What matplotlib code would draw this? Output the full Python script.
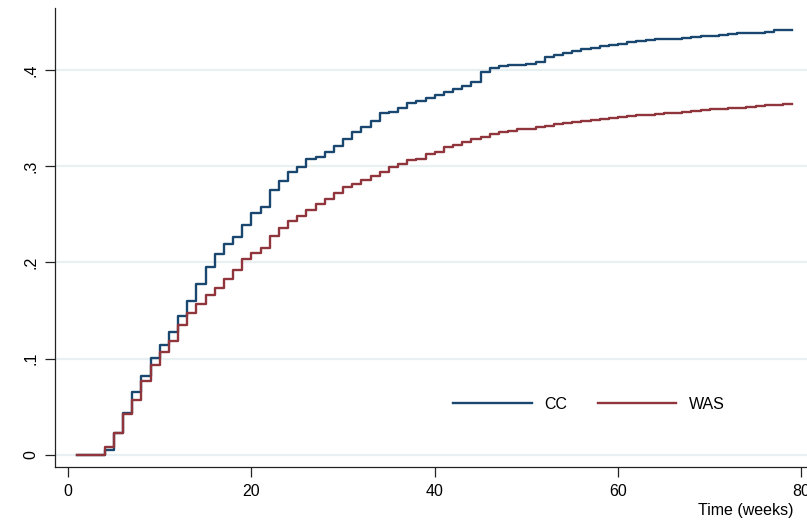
import matplotlib
matplotlib.use("Agg")
import matplotlib.pyplot as plt

# cumulative incidence, weekly steps (week 1..79)
weeks = list(range(1, 80))

cc = [0, 0, 0, 0.0055, 0.023, 0.0436, 0.0658, 0.082, 0.1004, 0.114,
      0.128, 0.1447, 0.160, 0.178, 0.1957, 0.2088, 0.219, 0.2268, 0.239, 0.251,
      0.258, 0.2753, 0.285, 0.294, 0.2996, 0.307, 0.310, 0.3152, 0.321, 0.3283,
      0.336, 0.341, 0.347, 0.355, 0.3567, 0.361, 0.3653, 0.3678, 0.3706, 0.374,
      0.3775, 0.380, 0.3835, 0.387, 0.3976, 0.4024, 0.4045, 0.4048, 0.4052, 0.4062,
      0.4086, 0.4132, 0.4156, 0.4173, 0.4197, 0.4218, 0.4225, 0.4246, 0.426, 0.4273,
      0.4287, 0.4301, 0.4312, 0.4322, 0.4324, 0.4326, 0.4329, 0.4346, 0.4348, 0.4356,
      0.4364, 0.4374, 0.438, 0.4382, 0.4387, 0.4398, 0.4416, 0.442, 0.442]

was = [0, 0, 0, 0.008, 0.023, 0.0426, 0.057, 0.077, 0.0935, 0.107,
       0.118, 0.135, 0.147, 0.157, 0.166, 0.174, 0.183, 0.192, 0.2036, 0.2095,
       0.2154, 0.2275, 0.2355, 0.243, 0.248, 0.2545, 0.2604, 0.2656, 0.272, 0.278,
       0.2816, 0.2857, 0.290, 0.2944, 0.299, 0.3023, 0.3065, 0.3075, 0.3124, 0.315,
       0.3197, 0.322, 0.3255, 0.3283, 0.3307, 0.334, 0.336, 0.337, 0.3384, 0.339,
       0.341, 0.342, 0.3439, 0.345, 0.3463, 0.3473, 0.348, 0.349, 0.3498, 0.3515,
       0.352, 0.3532, 0.3535, 0.354, 0.355, 0.3557, 0.3567, 0.3577, 0.3584, 0.3592,
       0.3595, 0.3602, 0.3608, 0.3619, 0.3629, 0.3636, 0.364, 0.3644, 0.3644]

xticks = [0, 20, 40, 60, 80]
yticks = [0, 0.1, 0.2, 0.3, 0.4]
ylabels = ["0", ".1", ".2", ".3", ".4"]

plt.rcParams["font.family"] = ["Liberation Sans", "DejaVu Sans"]

fig = plt.figure(figsize=(8.07, 5.20), dpi=100)
ax = fig.add_axes([55/807, 1 - 467/520, 752/807, 459/520])

for y in yticks:
    ax.axhline(y, color="#e9f0f2", lw=1.6, zorder=0)

ax.step(weeks, cc, where="post", color="#1a476f", lw=1.7, label="CC")
ax.step(weeks, was, where="post", color="#90353b", lw=1.7, label="WAS")

ax.set_xlim(-1.42, 80.6)
ax.set_ylim(-0.0125, 0.4644)

ax.set_xticks(xticks)
ax.set_xticklabels([str(t) for t in xticks], fontsize=11.5)
ax.set_yticks(yticks)
ax.set_yticklabels(ylabels, fontsize=11.5, rotation=90, va="center")

ax.tick_params(direction="out", length=7, width=0.9, color="#222222", pad=5)
for s in ["top", "right"]:
    ax.spines[s].set_visible(False)
for s in ["left", "bottom"]:
    ax.spines[s].set_color("#222222")
    ax.spines[s].set_linewidth(0.9)

ax.legend(loc="center", bbox_to_anchor=(0.71, 0.137), ncol=2, frameon=False,
          fontsize=11.5, handlelength=4.9, handletextpad=0.8, columnspacing=1.9)

fig.text(793/807, 1 - 510/520, "Time (weeks)", ha="right", va="center", fontsize=11.5)

fig.savefig("out.png", dpi=100)
